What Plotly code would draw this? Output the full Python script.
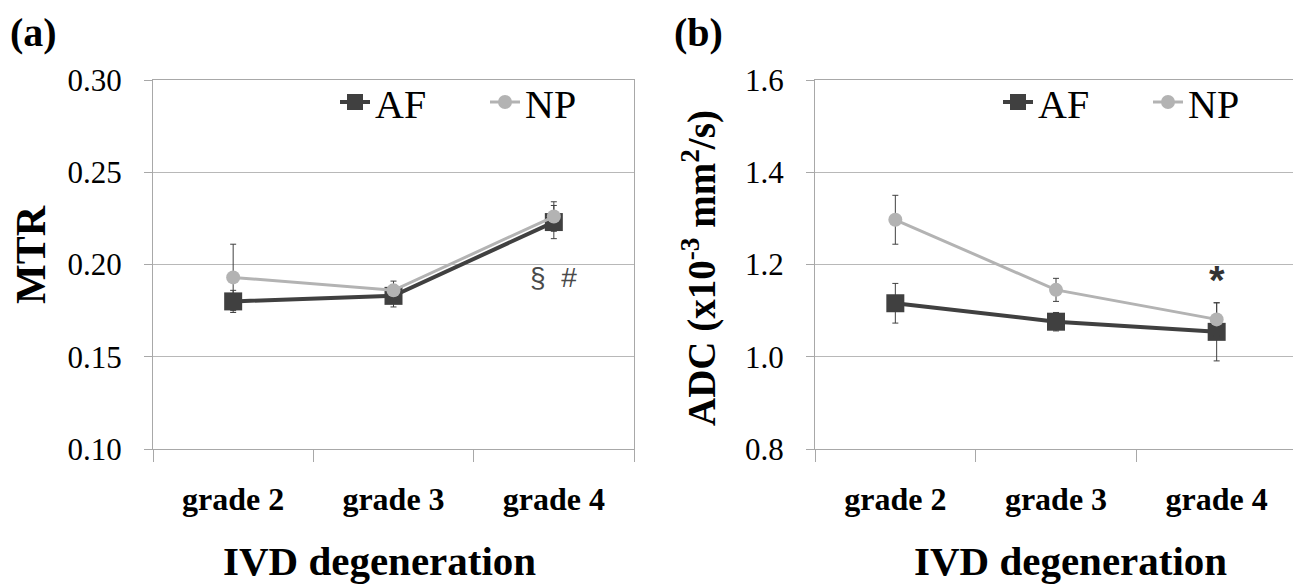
import plotly.graph_objects as go

grades = ["grade 2", "grade 3", "grade 4"]
mtr_af = [0.180, 0.183, 0.223]
mtr_af_err = [0.006, 0.006, 0.009]
mtr_np = [0.193, 0.186, 0.226]
mtr_np_err = [0.018, 0.005, 0.008]
adc_af = [1.116, 1.076, 1.054]
adc_af_err = [0.043, 0.020, 0.063]
adc_np = [1.297, 1.145, 1.081]
adc_np_err = [0.053, 0.025, 0.036]

# page has an 8px body margin; figure fills the rest of the window
OFF = 8
W, H = 1301 - OFF, 587 - OFF
AF_C = "#404040"
NP_C = "#b3b3b3"
ERR_C = "#404040"
SERIF = "Liberation Serif"

def px(x):
    return (x - OFF) / W

def py(y):
    return 1 - (y - OFF) / H

fig = go.Figure()

def add_pair(af, af_err, npv, np_err, xa, ya, leg):
    fig.add_trace(go.Scatter(
        x=grades, y=af, name="AF", mode="lines+markers",
        xaxis=xa, yaxis=ya, legend=leg,
        line=dict(color=AF_C, width=4),
        marker=dict(symbol="square", size=18, color=AF_C),
        error_y=dict(type="data", array=af_err, visible=True, color=ERR_C, thickness=1, width=3),
    ))
    fig.add_trace(go.Scatter(
        x=grades, y=npv, name="NP", mode="lines+markers",
        xaxis=xa, yaxis=ya, legend=leg,
        line=dict(color=NP_C, width=3),
        marker=dict(symbol="circle", size=14, color=NP_C),
        error_y=dict(type="data", array=np_err, visible=True, color=ERR_C, thickness=1, width=3),
    ))

add_pair(mtr_af, mtr_af_err, mtr_np, mtr_np_err, "x", "y", "legend")
add_pair(adc_af, adc_af_err, adc_np, adc_np_err, "x2", "y2", "legend2")

LINE_C = "#a8a8a8"
GRID_C = "#b8b8b8"
ydom = [py(449), py(80)]

xcommon = dict(
    type="category", range=[-0.5, 2.5], tickson="boundaries", ticks="outside",
    ticklen=12, tickcolor=LINE_C, showgrid=False, showline=True, linecolor=LINE_C,
    linewidth=1, mirror=True, ticklabelstandoff=22, automargin=False,
    tickfont=dict(family=SERIF, size=32, color="black", weight="bold"),
)
ycommon = dict(
    ticks="outside", ticklen=8, tickcolor=LINE_C, showgrid=True, gridcolor=GRID_C,
    showline=True, linecolor=LINE_C, linewidth=1, mirror=True, zeroline=False,
    automargin=False,
    tickfont=dict(family=SERIF, size=31, color="black"), ticklabelstandoff=16,
)

legcommon = dict(
    orientation="h", xanchor="left", yanchor="middle", y=py(102),
    font=dict(family=SERIF, size=40, color="black"),
    bgcolor="rgba(0,0,0,0)", borderwidth=0, entrywidthmode="pixels", entrywidth=105,
    itemclick=False,
)

fig.update_layout(
    width=W, height=H,
    margin=dict(l=0, r=0, t=0, b=0, autoexpand=False),
    paper_bgcolor="white", plot_bgcolor="white",
    xaxis=dict(domain=[px(153), px(634)], anchor="y", **xcommon),
    yaxis=dict(domain=ydom, anchor="x", range=[0.10, 0.30], dtick=0.05, tickformat=".2f", **ycommon),
    xaxis2=dict(domain=[px(815), px(1297)], anchor="y2", **xcommon),
    yaxis2=dict(domain=ydom, anchor="x2", range=[0.8, 1.6], dtick=0.2, tickformat=".1f", **ycommon),
    legend=dict(x=px(335), **legcommon),
    legend2=dict(x=px(998), **legcommon),
    showlegend=True,
)

bold_big = dict(family=SERIF, size=40, color="black", weight="bold")
title_f = dict(family=SERIF, size=41, color="black", weight="bold")
ann = [
    dict(text="(a)", x=px(8), y=py(8), xanchor="left", yanchor="top", font=bold_big),
    dict(text="(b)", x=px(672), y=py(8), xanchor="left", yanchor="top", font=bold_big),
    dict(text="MTR", x=px(31), y=py(255), textangle=-90, xanchor="center", yanchor="middle",
         font=dict(family=SERIF, size=42, color="black", weight="bold")),
    dict(text="ADC (x10<sup>-3</sup> mm<sup>2</sup>/s)", x=px(699), y=py(268), textangle=-90,
         xanchor="center", yanchor="middle", font=dict(family=SERIF, size=39, color="black", weight="bold")),
    dict(text="IVD degeneration", x=px(379), y=py(561), xanchor="center", yanchor="middle", font=title_f),
    dict(text="IVD degeneration", x=px(1070), y=py(561), xanchor="center", yanchor="middle", font=title_f),
]
for a in ann:
    a.update(xref="paper", yref="paper", showarrow=False)
    fig.add_annotation(**a)

fig.add_annotation(text="§&nbsp;&nbsp;#", x="grade 4", y=0.193, xref="x", yref="y", showarrow=False,
                   font=dict(family="Liberation Sans", size=28, color="#4a4a4a"))
fig.add_annotation(text="*", x="grade 4", y=1.166, xref="x2", yref="y2", showarrow=False,
                   font=dict(family="Liberation Sans", size=40, color="#333333", weight="bold"))

fig.write_html("out.html")
